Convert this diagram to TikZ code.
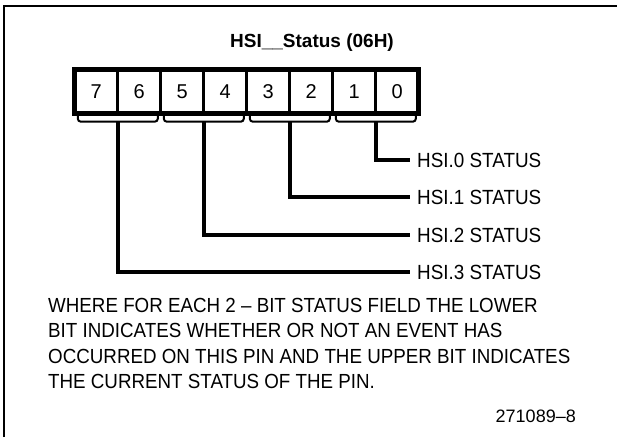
\documentclass[tikz,border=0pt]{standalone}
\usepackage{fontspec}
\setmainfont{Liberation Sans}
\newfontfamily\notefont[Ligatures=TeX,FakeStretch=0.92]{Liberation Sans}
\usetikzlibrary{positioning,calc}

\begin{document}
\begin{tikzpicture}[x=1pt,y=-1pt,
  bitcell/.style={minimum width=42.6pt,minimum height=44pt,inner sep=0pt,font=\fontsize{20}{20}\selectfont},
  divider/.style={line width=3pt},
  bracket/.style={line width=2pt,rounded corners=3pt},
  leader/.style={line width=4pt,shorten >=7pt},
  statuslbl/.style={anchor=west,inner sep=0pt,font=\notefont\fontsize{20.5}{20.5}\selectfont}]
\useasboundingbox (0,0) rectangle (617,437);
\draw[line width=2pt] (4,437) -- (4,6) -- (617,6);
\node[font=\bfseries\fontsize{19}{19}\selectfont] (title) at (312,43) {HSI\_\_Status (06H)};
% register cells
\node[bitcell] (b7) at (96.3,91.5) {7};
\foreach \i/\j in {7/6,6/5,5/4,4/3,3/2,2/1,1/0}
  \node[bitcell,right=0pt of b\i] (b\j) {\j};
\foreach \i in {7,6,5,4,3,2,1}
  \draw[divider] (b\i.north east) -- (b\i.south east);
\draw[line width=5pt] (b7.north west) rectangle (b0.south east);
% brackets under each 2-bit field
\foreach \h/\l in {7/6,5/4,3/2,1/0}
  \draw[bracket] ($(b\h.south west)+(3,2)$) -- ++(0,6) -- ($(b\l.south east)+(-3,8)$) -- ++(0,-6);
% status labels
\node[statuslbl] (st0) at (417,160) {HSI.0 STATUS};
\node[statuslbl] (st1) at (417,197) {HSI.1 STATUS};
\node[statuslbl] (st2) at (417,235) {HSI.2 STATUS};
\node[statuslbl] (st3) at (417,272) {HSI.3 STATUS};
\draw[leader] ($(b1.south east)+(0,8)$) |- (st0.west);
\draw[leader] ($(b3.south east)+(0,8)$) |- (st1.west);
\draw[leader] ($(b5.south east)+(0,8)$) |- (st2.west);
\draw[leader] ($(b7.south east)+(0,8)$) |- (st3.west);
% note
\node[anchor=north west,inner sep=0pt,align=left,font=\notefont\fontsize{20.4}{25.5}\selectfont] (note) at (48,298)
  {WHERE FOR EACH 2 -- BIT STATUS FIELD THE LOWER\\
   BIT INDICATES WHETHER OR NOT AN EVENT HAS\\
   OCCURRED ON THIS PIN AND THE UPPER BIT INDICATES\\
   THE CURRENT STATUS OF THE PIN.};
\node[anchor=east,inner sep=0pt,font=\fontsize{18}{18}\selectfont] (fig) at (576,416) {271089--8};
\end{tikzpicture}
\end{document}
